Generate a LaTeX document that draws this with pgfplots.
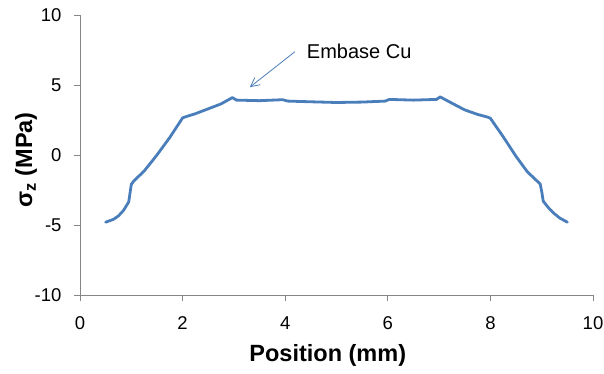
\documentclass[border=0pt]{standalone}
\usepackage{fontspec}
\setmainfont{Liberation Sans}
\usepackage{pgfplots}
\pgfplotsset{compat=1.18}
\usetikzlibrary{arrows.meta}
\definecolor{lineblue}{HTML}{4A7EBB}
\definecolor{axgray}{HTML}{868686}
\begin{document}
\begin{tikzpicture}
\useasboundingbox (-80pt,-79pt) rectangle (524pt,295pt);
\begin{axis}[
  at={(0,0)}, anchor=south west,
  scale only axis, width=513pt, height=280pt,
  xmin=0, xmax=10, ymin=-10, ymax=10,
  xtick={0,2,...,10}, ytick={-10,-5,...,10},
  axis lines*=left,
  axis line style={axgray, line width=0.9pt},
  tick align=outside, major tick length=6pt,
  every tick/.style={axgray, line width=0.9pt},
  /pgf/number format/assume math mode=true,
  ticklabel style={font=\fontsize{18.5}{20}\selectfont},
  xticklabel style={yshift=-12pt},
  yticklabel style={xshift=-9pt},
  xlabel={\textbf{Position (mm)}},
  ylabel={\textbf{σ\textsubscript{z} (MPa)}},
  xlabel style={at={([yshift=-60pt]rel axis cs:0.483,0)}, anchor=center, font=\fontsize{23.5}{26}\selectfont},
  ylabel style={at={([xshift=-54pt]rel axis cs:0,0.482)}, anchor=center, font=\fontsize{23.5}{26}\selectfont},
  clip=false,
]
\addplot[lineblue, line width=2.8pt, line join=round, line cap=round] coordinates {
(0.5,-4.8) (0.65,-4.6) (0.75,-4.35) (0.85,-3.95) (0.95,-3.35) (0.98,-2.6) (1.0,-2.1) (1.05,-1.85)
(1.25,-1.15) (1.5,0.0) (1.75,1.25) (2.0,2.65)
(2.05,2.72) (2.25,2.95) (2.5,3.3) (2.75,3.65) (2.97,4.1) (3.05,3.92)
(3.5,3.88) (3.95,3.95) (4.05,3.85) (4.5,3.8) (5.0,3.75) (5.5,3.78) (5.95,3.85) (6.03,3.97)
(6.5,3.92) (6.95,3.97) (7.02,4.15) (7.25,3.7) (7.5,3.22) (7.75,2.9) (7.95,2.7) (8.0,2.62)
(8.25,1.3) (8.5,-0.1) (8.72,-1.2) (8.97,-2.07) (9.0,-2.6) (9.03,-3.3) (9.15,-3.85) (9.25,-4.2) (9.35,-4.5) (9.5,-4.8)
};
\draw[lineblue, line width=0.8pt, -{Straight Barb[length=9pt,width=9pt]}] (axis cs:4.19,7.38) -- (axis cs:3.31,4.84);
\node[anchor=west, inner sep=0pt, font=\fontsize{20}{22}\selectfont] at (axis cs:4.42,7.4) {Embase Cu};
\end{axis}
\end{tikzpicture}
\end{document}
